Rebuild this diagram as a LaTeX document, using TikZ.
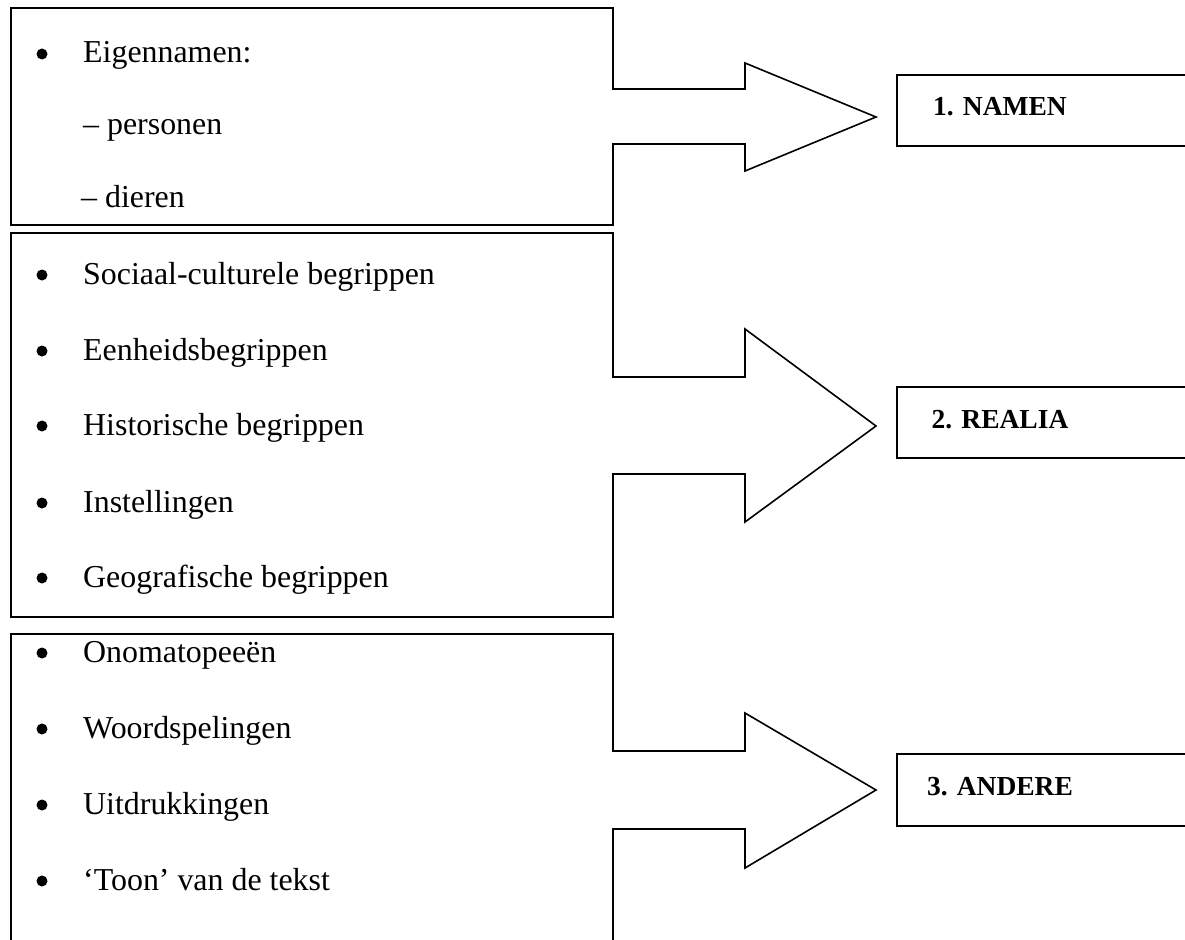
\documentclass[tikz,border=0pt]{standalone}
\usepackage{fontspec}
\setmainfont{Liberation Serif}
\begin{document}
\begin{tikzpicture}[x=1pt,y=-1pt,
  outline/.style={draw=black,line width=1.6pt,line join=miter},
  item/.style={anchor=base west,inner sep=0pt,font=\fontsize{31.9}{38}\selectfont},
  bul/.style={circle,fill=black,inner sep=0pt,minimum size=11pt},
  label/.style={anchor=base,inner sep=0pt,font=\fontsize{27.5}{33}\selectfont\bfseries}]
\useasboundingbox (0,0) rectangle (1185,939);
\fill[white] (0,0) rectangle (1185,939);
% group 1
\draw[outline] (11,8) -- (613,8) -- (613,89) -- (745,89) -- (745,63) -- (876,117)
  -- (745,171) -- (745,144) -- (613,144) -- (613,225) -- (11,225) -- cycle;
\node[bul] (b1) at (42,54) {};
\node[item] (t1) at (83,63) {Eigennamen:};
\node[item] (t1a) at (83,135) {– personen};
\node[item] (t1b) at (81,207) {– dieren};
\draw[outline] (1190,75) -- (897,75) -- (897,146) -- (1190,146);
\node[label] (l1) at (1000,116) {1. NAMEN};
% group 2
\draw[outline] (11,233) -- (613,233) -- (613,377) -- (745,377) -- (745,329) -- (876,426)
  -- (745,522) -- (745,474) -- (613,474) -- (613,617) -- (11,617) -- cycle;
\node[bul] (b2a) at (42,275) {};
\node[item] (t2a) at (83,284) {Sociaal-culturele begrippen};
\node[bul] (b2b) at (42,351) {};
\node[item] (t2b) at (83,360) {Eenheidsbegrippen};
\node[bul] (b2c) at (42,426) {};
\node[item] (t2c) at (83,435) {Historische begrippen};
\node[bul] (b2d) at (42,503) {};
\node[item] (t2d) at (83,512) {Instellingen};
\node[bul] (b2e) at (42,578) {};
\node[item] (t2e) at (83,587) {Geografische begrippen};
\draw[outline] (1190,387) -- (897,387) -- (897,458) -- (1190,458);
\node[label] (l2) at (1000,428) {2. REALIA};
% group 3
\draw[outline] (11,945) -- (11,634) -- (613,634) -- (613,751) -- (745,751) -- (745,713) -- (876,790)
  -- (745,868) -- (745,829) -- (613,829) -- (613,945);
\node[bul] (b3a) at (42,653) {};
\node[item] (t3a) at (83,662) {Onomatopeeën};
\node[bul] (b3b) at (42,729) {};
\node[item] (t3b) at (83,738) {Woordspelingen};
\node[bul] (b3c) at (42,805) {};
\node[item] (t3c) at (83,814) {Uitdrukkingen};
\node[bul] (b3d) at (42,881) {};
\node[item] (t3d) at (83,890) {‘Toon’ van de tekst};
\draw[outline] (1190,754) -- (897,754) -- (897,826) -- (1190,826);
\node[label] (l3) at (1000,795) {3. ANDERE};
\end{tikzpicture}
\end{document}
